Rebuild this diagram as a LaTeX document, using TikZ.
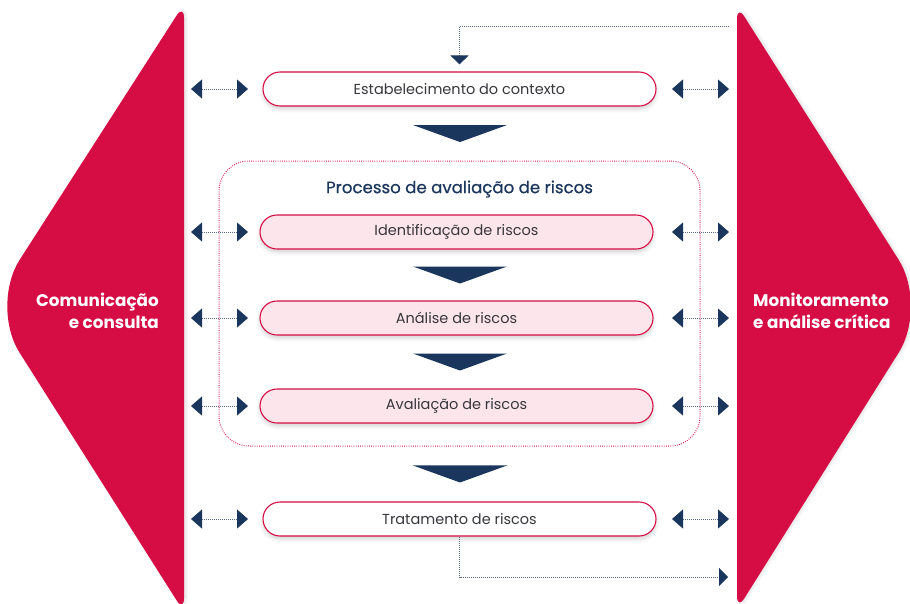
\documentclass[tikz,border=0pt]{standalone}
\usepackage{fontspec}
\setmainfont{Poppins}
\newfontfamily\titlefont[FakeBold=0.6]{Poppins}
\usetikzlibrary{arrows.meta,shadows.blur,calc}
\definecolor{crim}{RGB}{213,13,68}
\definecolor{navy}{RGB}{27,54,93}
\definecolor{pinkf}{RGB}{252,229,235}
\definecolor{dotc}{RGB}{95,110,135}
\definecolor{txt}{RGB}{55,55,60}
\newcommand\downtri[2]{\fill[navy] ($(cx |- #1)!0.5!(cx |- #2)+(-47,-8.5)$) -- ++(94,0) -- ++(-47,17) -- cycle;}
\begin{document}
\begin{tikzpicture}[x=1pt,y=-1pt,
  stepbox/.style={draw=crim, line width=1.1pt, rounded corners=17pt, minimum width=393pt, minimum height=34pt, inner sep=0pt, font=\fontsize{14.5}{16}\selectfont, text=txt,
    blur shadow={shadow xshift=0pt, shadow yshift=-3pt, shadow blur radius=4pt, shadow opacity=18}},
  whitebox/.style={stepbox, fill=white},
  pinkbox/.style={stepbox, fill=pinkf},
  bigshape/.style={fill=crim, blur shadow={shadow xshift=2pt, shadow yshift=0pt, shadow blur radius=3pt, shadow opacity=12}},
  biglabel/.style={text=white, font=\bfseries\fontsize{16.8}{22.5}\selectfont, inner sep=0pt},
  dbl/.style={draw=dotc, line width=0.8pt, dash pattern=on 0.8pt off 1.2pt,
    {Triangle[width=19pt,length=11pt,color=navy]}-{Triangle[width=19pt,length=11pt,color=navy]}},
  loopline/.style={draw=dotc, line width=0.8pt, dash pattern=on 0.8pt off 1.2pt,
    -{Triangle[width=18pt,length=9pt,color=navy]}},
  group/.style={draw=crim, line width=1pt, dash pattern=on 0.8pt off 1.4pt, rounded corners=30pt, minimum width=481pt, minimum height=285pt}
]
\useasboundingbox (0,0) rectangle (910,603);
% side shapes
\fill[bigshape] [rounded corners=14pt] (184,300) -- (184,4) [rounded corners=55pt] -- (-10,306) [rounded corners=14pt] -- (184,612) -- cycle;
\fill[bigshape] [rounded corners=14pt] (737,300) -- (737,5) [rounded corners=55pt] -- (928,306) [rounded corners=14pt] -- (737,610) -- cycle;
\node[biglabel, anchor=east, align=right] (cl) at (159,311) {Comunicação\\e consulta};
\node[biglabel, anchor=west, align=left] (ml) at (753,311) {Monitoramento\\e análise crítica};
% group
\node[group] (grp) at (459.5,303.5) {};
\node[text=navy, font=\titlefont\fontsize{16.6}{18}\selectfont] (title) at (459.5,189) {Processo de avaliação de riscos};
% boxes
\node[whitebox] (b0) at (459.5,89) {Estabelecimento do contexto};
\node[pinkbox] (b1) at (456.5,232) {Identificação de riscos};
\node[pinkbox] (b2) at (456.5,318) {Análise de riscos};
\node[pinkbox] (b3) at (456.5,406) {Avaliação de riscos};
\node[whitebox] (b4) at (459.5,519) {Tratamento de riscos};
% columns
\coordinate (cx) at (460,0);
\coordinate (la) at (191,0);
\coordinate (lb) at (248,0);
\coordinate (ra) at (672,0);
\coordinate (rb) at (729,0);
\foreach \b in {b0,b1,b2,b3,b4}{
  \draw[dbl] (la |- \b) -- (lb |- \b);
  \draw[dbl] (ra |- \b) -- (rb |- \b);
}
% big down arrows
\downtri{b0.south}{grp.north}
\downtri{b1.south}{b2.north}
\downtri{b2.south}{b3.north}
\downtri{grp.south}{b4.north}
% loops
\coordinate (topr) at (729,26);
\coordinate (botr) at (728,577);
\draw[loopline, shorten >=7pt] (topr) -| (b0.north);
\draw[loopline] (b4.south) |- (botr);
\end{tikzpicture}
\end{document}
